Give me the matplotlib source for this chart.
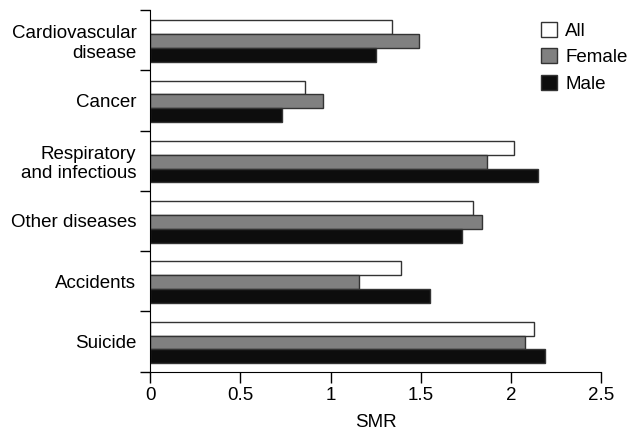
import matplotlib
matplotlib.use("Agg")
import matplotlib.pyplot as plt
import numpy as np
from matplotlib.ticker import FixedLocator, NullFormatter

plt.rcParams['font.family'] = ['Liberation Sans', 'DejaVu Sans']

categories = ["Cardiovascular\ndisease", "Cancer", "Respiratory\nand infectious",
              "Other diseases", "Accidents", "Suicide"]
series_names = ["All", "Female", "Male"]
all_vals = [1.34, 0.86, 2.02, 1.79, 1.39, 2.13]
female_vals = [1.49, 0.96, 1.87, 1.84, 1.16, 2.08]
male_vals = [1.25, 0.73, 2.15, 1.73, 1.55, 2.19]
x_ticks = [0, 0.5, 1, 1.5, 2, 2.5]
x_ticklabels = ["0", "0.5", "1", "1.5", "2", "2.5"]

FS = 13.5
colors = ["#ffffff", "#808080", "#0d0d0d"]
fig = plt.figure(figsize=(6.31, 4.34), dpi=100)
ax = fig.add_axes([0.2382, 0.1435, 0.9525 - 0.2382, 0.977 - 0.1435])

n = len(categories)
y = np.arange(n)
h = 0.23
for i, (vals, name) in enumerate(zip([all_vals, female_vals, male_vals], series_names)):
    ax.barh(y + (i - 1) * h + 0.015, vals, height=h, color=colors[i],
            edgecolor="#333333", linewidth=1.0, label=name)

ax.set_xlim(0, 2.5)
ax.set_ylim(n - 0.5, -0.5)
ax.set_xticks(x_ticks)
ax.set_xticklabels(x_ticklabels, fontsize=FS)
ax.set_yticks(y)
ax.set_yticklabels(categories, fontsize=FS, multialignment='right')
ax.tick_params(axis='y', which='major', length=0, pad=10)
ax.yaxis.set_minor_locator(FixedLocator(np.arange(-0.5, n, 1.0)))
ax.yaxis.set_minor_formatter(NullFormatter())
ax.tick_params(axis='y', which='minor', length=7, width=1, direction='out')
ax.tick_params(axis='x', length=8, width=1, direction='out', pad=3)
ax.set_xlabel("SMR", fontsize=FS, labelpad=7.5)
for s in ["top", "right"]:
    ax.spines[s].set_visible(False)

leg = ax.legend(loc="upper left", bbox_to_anchor=(541 / 631, 1 - 22 / 434),
                bbox_transform=fig.transFigure, frameon=False, borderaxespad=0,
                borderpad=0, fontsize=FS, handlelength=0.85, handleheight=0.85,
                handletextpad=0.45, labelspacing=0.45)

fig.savefig("out.png", dpi=100)
